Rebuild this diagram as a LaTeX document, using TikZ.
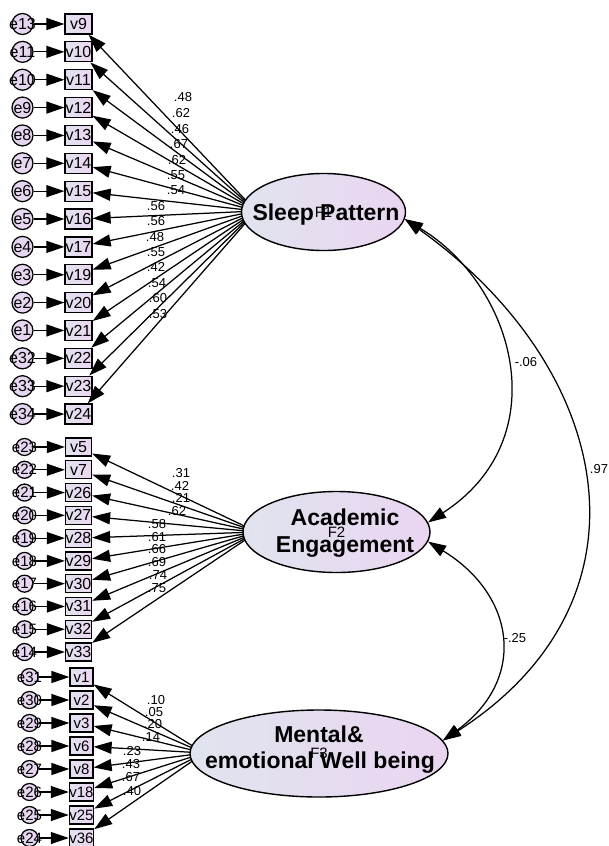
\documentclass[tikz,border=0pt]{standalone}
\usepackage{fontspec}
\setmainfont{Liberation Sans}
\usetikzlibrary{arrows.meta,shapes.geometric}
\pgfdeclarelayer{bg}
\pgfsetlayers{bg,main}
\definecolor{ellL}{HTML}{E0E4EE}
\definecolor{ellR}{HTML}{EAD5F1}
\definecolor{boxL}{HTML}{E3E1EF}
\definecolor{boxR}{HTML}{EBD7F1}
\definecolor{circ}{HTML}{E6D6EF}
\tikzset{
  arr/.style={line width=1.25pt,-{Triangle[length=18pt,width=12pt]}},
  biarr/.style={line width=1.25pt,{Triangle[length=18pt,width=12pt]}-{Triangle[length=18pt,width=12pt]}},
  obsbox/.style={draw,line width=1.25pt,rectangle,inner sep=0pt,left color=boxL,right color=boxR},
  obsA/.style={obsbox,minimum width=27pt,minimum height=20pt,font=\fontsize{16}{16}\selectfont},
  obsB/.style={obsbox,minimum width=26pt,minimum height=18pt,font=\fontsize{16}{16}\selectfont},
  obsC/.style={obsbox,minimum width=23pt,minimum height=18pt,font=\fontsize{15}{15}\selectfont},
  errc/.style={draw,line width=1.25pt,circle,inner sep=0pt,fill=circ},
  errA/.style={errc,minimum size=21pt},
  errB/.style={errc,minimum size=17pt},
  elabA/.style={inner sep=0pt,font=\fontsize{16}{16}\selectfont},
  elabB/.style={inner sep=0pt,font=\fontsize{15}{15}\selectfont},
  latent/.style={draw,line width=1.4pt,ellipse,inner sep=0pt,left color=ellL,right color=ellR,font=\fontsize{15}{15}\selectfont},
  lname/.style={inner sep=0pt,anchor=base,font=\fontsize{23}{23}\selectfont\bfseries},
  ld/.style={inner sep=0pt,font=\fontsize{13}{13}\selectfont}
}
\begin{document}
\begin{tikzpicture}[x=1pt,y=-1pt]
\useasboundingbox (0,0) rectangle (609,846);
\begin{pgfonlayer}{bg}
\fill[white] (0,0) rectangle (609,846);
\end{pgfonlayer}

% latent variables
\node[latent,minimum width=164pt,minimum height=77pt] (F1) at (323.5,212) {F1};
\node[latent,minimum width=187pt,minimum height=81pt] (F2) at (336.5,532) {F2};
\node[latent,minimum width=258pt,minimum height=87pt] (F3) at (319,753.5) {F3};
\node[lname] (n1) at (326,220) {Sleep Pattern};
\node[lname] (n2a) at (345,525) {Academic};
\node[lname] (n2b) at (345,552) {Engagement};
\node[lname] (n3a) at (319,742) {Mental\&};
\node[lname] (n3b) at (320,768) {emotional Well being};

\coordinate (F1c) at (256,211);
\coordinate (F2c) at (257,532);
\coordinate (F3c) at (204,753);

% F1 indicators
\foreach \v/\e/\l/\lx/\ly [count=\i from 0] in {
 v9/e13/.48/183/97, v10/e11/.62/181/113, v11/e10/.46/180/129,
 v12/e9/.67/179/144, v13/e8/.62/177/160, v14/e7/.55/176/175,
 v15/e6/.54/176/190, v16/e5/.56/156/206, v17/e4/.56/156/221,
 v19/e3/.48/155/237, v20/e2/.55/156/252, v21/e1/.42/156/267,
 v22/e32/.54/157/283, v23/e33/.60/158/298, v24/e34/.53/158/314}
{
 \node[obsA] (\v) at (78.5,{24+27.86*\i}) {\v};
 \node[errA,label={[elabA]center:\e}] (\e) at (22.5,{24+27.86*\i}) {};
 \draw[arr] (\e) -- (\v);
 \begin{pgfonlayer}{bg}\draw[arr] (F1c) -- (\v);\end{pgfonlayer}
 \node[ld] (l\v) at (\lx,\ly) {\l};
}

% F2 indicators
\foreach \v/\e/\l/\lx/\ly [count=\i from 0] in {
 v5/e23/.31/181/473, v7/e22/.42/180/486, v26/e21/.21/181/498,
 v27/e20/.62/177/511, v28/e19/.58/157/524, v29/e18/.61/157/537,
 v30/e17/.66/157/549, v31/e16/.69/157/562, v32/e15/.74/158/575,
 v33/e14/.75/157/588}
{
 \node[obsB] (\v) at (78.5,{447+22.78*\i}) {\v};
 \node[errB,label={[elabB]center:\e}] (\e) at (24.5,{447+22.78*\i}) {};
 \draw[arr] (\e) -- (\v);
 \begin{pgfonlayer}{bg}\draw[arr] (F2c) -- (\v);\end{pgfonlayer}
 \node[ld] (l\v) at (\lx,\ly) {\l};
}

% F3 indicators
\foreach \v/\e/\l/\lx/\ly [count=\i from 0] in {
 v1/e31/.10/156/700, v2/e30/.05/154/712, v3/e29/.20/153/724,
 v6/e28/.14/151/737, v8/e27/.23/132/751, v18/e26/.43/131/764,
 v25/e25/.67/131/777, v36/e24/.40/132/791}
{
 \node[obsC] (\v) at (81.5,{677+23.0*\i}) {\v};
 \node[errB,label={[elabB]center:\e}] (\e) at (29.5,{677+23.0*\i}) {};
 \draw[arr] (\e) -- (\v);
 \begin{pgfonlayer}{bg}\draw[arr] (F3c) -- (\v);\end{pgfonlayer}
 \node[ld] (l\v) at (\lx,\ly) {\l};
}

% covariances
\draw[biarr] (F1.-5) .. controls +(110,66) and +(130,-84) .. (F2.6);
\draw[biarr] (F1.-5) .. controls +(210,150) and +(218,-140) .. (F3.6);
\draw[biarr] (F2.-6) .. controls +(88,54) and +(84,-61) .. (F3.6);
\node[ld] (c12) at (526,362) {-.06};
\node[ld] (c13) at (599,469) {.97};
\node[ld] (c23) at (515,638) {-.25};
\end{tikzpicture}
\end{document}
